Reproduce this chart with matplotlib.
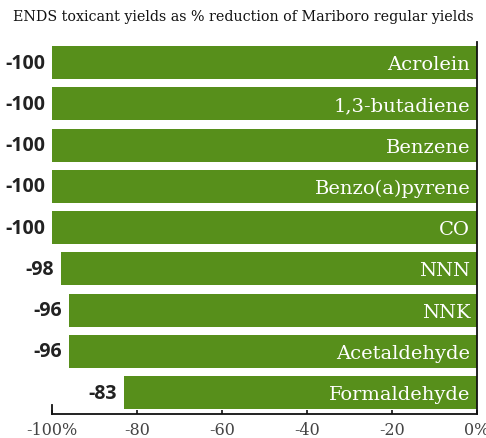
import matplotlib

matplotlib.use("Agg")
import matplotlib.pyplot as plt
import numpy as np

# data
toxicants = [
    "Acrolein",
    "1,3-butadiene",
    "Benzene",
    "Benzo(a)pyrene",
    "CO",
    "NNN",
    "NNK",
    "Acetaldehyde",
    "Formaldehyde",
]
reduction = [-100, -100, -100, -100, -100, -98, -96, -96, -83]
tick_values = [-100, -80, -60, -40, -20, 0]
tick_labels = ["-100%", "-80", "-60", "-40", "-20", "0%"]

BAR_COLOR = "#578f1b"


def main() -> None:
    fig = plt.figure(figsize=(4.86, 4.39), dpi=100)
    ax = fig.add_axes([52 / 486, 1 - 415 / 439, 425 / 486, (415 - 43) / 439])

    y = np.arange(len(toxicants))
    ax.barh(y, reduction, height=0.8, color=BAR_COLOR, edgecolor="none")
    ax.set_xlim(-100, 0)
    ax.set_ylim(len(toxicants) - 0.48, -0.5)

    for yi, name, val in zip(y, toxicants, reduction):
        ax.text(-1.6, yi + 0.04, name, ha="right", va="center", color="white",
                family="DejaVu Serif", fontsize=14)
        ax.annotate(str(val), xy=(val, yi), xytext=(-5, 0), textcoords="offset points",
                    ha="right", va="center", color="#222222",
                    family="Open Sans", fontweight="bold", fontsize=14,
                    annotation_clip=False)

    ax.set_yticks([])
    ax.set_xticks(tick_values)
    ax.set_xticklabels(tick_labels, family="DejaVu Serif", fontsize=11.5, color="#444444")
    ax.tick_params(axis="x", direction="in", length=3, width=1.2, pad=5, color="#111111")

    for side in ("top", "left"):
        ax.spines[side].set_visible(False)
    ax.spines["bottom"].set_linewidth(1.3)
    ax.spines["right"].set_linewidth(1.3)
    ax.spines["bottom"].set_color("#111111")
    ax.spines["right"].set_color("#111111")
    # short end mark at -100
    ax.plot([-100, -100], [0, 0.025], transform=ax.get_xaxis_transform(),
            color="#111111", linewidth=1.3, clip_on=False)

    fig.text(0.5, 1 - 17 / 439, "ENDS toxicant yields as % reduction of Mariboro regular yields",
             ha="center", va="center", family="DejaVu Serif", fontsize=10.3, color="#111111")

    fig.savefig("out.png", dpi=100)
    plt.close(fig)


if __name__ == "__main__":
    main()
